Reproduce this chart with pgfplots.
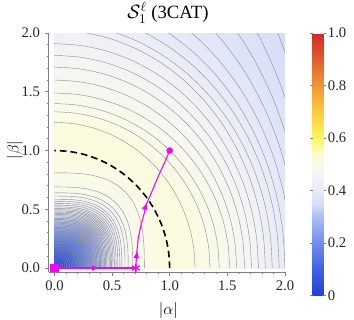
\documentclass[border=0pt]{standalone}
\usepackage{fontspec}
\setmainfont{Liberation Serif}
\usepackage{pgfplots}
\usepackage{pgfplotstable}
\pgfplotsset{compat=1.18}
\usetikzlibrary{decorations.markings, arrows.meta}
\definecolor{mag}{RGB}{250,0,250}

% unit quarter circle
\pgfplotstableread{
x y
1 0
0.9914 0.1305
0.9659 0.2588
0.9239 0.3827
0.8660 0.5
0.7934 0.6088
0.7071 0.7071
0.6088 0.7934
0.5 0.8660
0.3827 0.9239
0.2588 0.9659
0.1305 0.9914
0 1
}\circq

% unit quarter superellipse (p=3)
\pgfplotstableread{
x y
1 0
0.99909 0.1399
0.99350 0.2685
0.97715 0.4061
0.93653 0.5632
0.87547 0.69033
0.79370 0.79370
0.69033 0.87547
0.5632 0.93653
0.4061 0.97715
0.2685 0.99350
0.1399 0.99909
0 1
}\supq

\newcommand{\ctr}[2]{\addplot[cline, smooth] table[x expr=\thisrow{x}*#1, y expr=\thisrow{y}*#2]{\circq};}
\newcommand{\ctrin}[2]{\addplot[cline, smooth, tension=0.4] table[x expr=\thisrow{x}*#1, y expr=\thisrow{y}*#2]{\supq};}

\begin{document}
\begin{tikzpicture}
\useasboundingbox (-36.5pt,-35.25pt) rectangle (229pt,204pt);
\begin{axis}[
  at={(0,0)}, anchor=south west,
  scale only axis, width=177.2pt, height=179.25pt,
  xmin=-0.05, xmax=2, ymin=-0.034, ymax=2,
  axis x line*=bottom, axis y line*=left,
  axis line style={black!50, line width=0.4pt},
  tick align=outside, major tick length=3pt, minor tick length=1.6pt,
  every tick/.style={black!50, line width=0.4pt},
  xtick={0,0.5,1,1.5,2}, xticklabels={0.0,0.5,1.0,1.5,2.0},
  ytick={0,0.5,1,1.5,2}, yticklabels={0.0,0.5,1.0,1.5,2.0},
  minor x tick num=4, minor y tick num=4,
  ticklabel style={font=\fontsize{11}{13}\selectfont, text=black!85},
  xlabel={$|\alpha|$}, ylabel={$|\beta|$},
  xlabel style={at={(axis description cs:0.507,-0.176)}, anchor=base, font=\fontsize{11.5}{13}\selectfont},
  ylabel style={at={(axis description cs:-0.143,0.51)}, anchor=center, font=\fontsize{11.5}{13}\selectfont},
  title={$\mathcal{S}_1^{\ell}$ (3CAT)},
  title style={at={(axis description cs:0.505,1.028)}, anchor=base, font=\fontsize{14}{16}\selectfont},
  colormap={temp}{[1pt] rgb255(0pt)=(35,62,215) rgb255(10pt)=(62,98,228) rgb255(20pt)=(112,142,236)
     rgb255(30pt)=(172,188,243) rgb255(35pt)=(215,222,247) rgb255(40pt)=(230,234,248) rgb255(45pt)=(243,244,245)
     rgb255(50pt)=(250,250,232) rgb255(55pt)=(252,250,190) rgb255(60pt)=(255,245,95) rgb255(70pt)=(250,205,60)
     rgb255(80pt)=(238,150,50) rgb255(90pt)=(225,95,45) rgb255(100pt)=(210,40,40)},
  point meta min=0, point meta max=1,
  colorbar,
  colorbar style={at={(parent axis.north east)}, anchor=north west, xshift=12.3pt,
     scale only axis, width=8.25pt, height=197pt,
     ytick={0,0.2,0.4,0.6,0.8,1}, yticklabels={0,0.2,0.4,0.6,0.8,1.0},
     axis line style={draw=none}, tick align=outside, major tick length=2pt,
     every tick/.style={black!50, line width=0.4pt},
     yticklabel style={font=\fontsize{11}{13}\selectfont, text=black!85, inner sep=1pt}},
  cline/.style={no markers, line width=0.3pt, black!45, forget plot},
]
\addplot[surf, shader=interp, mesh/cols=16, point meta=explicit, forget plot] coordinates {
(0,0)[0.0] (0.05,0)[0.028] (0.1,0)[0.057] (0.2,0)[0.133] (0.3,0)[0.218] (0.4,0)[0.309] (0.5,0)[0.403] (0.6,0)[0.465] (0.7,0)[0.492] (0.8,0)[0.502] (1,0)[0.514] (1.2,0)[0.5105] (1.4,0)[0.4936] (1.6,0)[0.467] (1.8,0)[0.4348] (2,0)[0.400]
(0,0.05)[0.028] (0.05,0.05)[0.033] (0.1,0.05)[0.058] (0.2,0.05)[0.133] (0.3,0.05)[0.218] (0.4,0.05)[0.309] (0.5,0.05)[0.403] (0.6,0.05)[0.465] (0.7,0.05)[0.492] (0.8,0.05)[0.502] (1,0.05)[0.514] (1.2,0.05)[0.5105] (1.4,0.05)[0.4936] (1.6,0.05)[0.467] (1.8,0.05)[0.4348] (2,0.05)[0.3999]
(0,0.1)[0.057] (0.05,0.1)[0.058] (0.1,0.1)[0.071] (0.2,0.1)[0.136] (0.3,0.1)[0.219] (0.4,0.1)[0.309] (0.5,0.1)[0.403] (0.6,0.1)[0.465] (0.7,0.1)[0.492] (0.8,0.1)[0.502] (1,0.1)[0.514] (1.2,0.1)[0.5105] (1.4,0.1)[0.4931] (1.6,0.1)[0.4665] (1.8,0.1)[0.4345] (2,0.1)[0.3997]
(0,0.2)[0.133] (0.05,0.2)[0.133] (0.1,0.2)[0.136] (0.2,0.2)[0.165] (0.3,0.2)[0.231] (0.4,0.2)[0.315] (0.5,0.2)[0.406] (0.6,0.2)[0.466] (0.7,0.2)[0.492] (0.8,0.2)[0.502] (1,0.2)[0.514] (1.2,0.2)[0.510] (1.4,0.2)[0.4918] (1.6,0.2)[0.4653] (1.8,0.2)[0.4332] (2,0.2)[0.3987]
(0,0.3)[0.218] (0.05,0.3)[0.218] (0.1,0.3)[0.219] (0.2,0.3)[0.231] (0.3,0.3)[0.270] (0.4,0.3)[0.335] (0.5,0.3)[0.416] (0.6,0.3)[0.469] (0.7,0.3)[0.493] (0.8,0.3)[0.502] (1,0.3)[0.514] (1.2,0.3)[0.5086] (1.4,0.3)[0.4897] (1.6,0.3)[0.4633] (1.8,0.3)[0.4313] (2,0.3)[0.3971]
(0,0.4)[0.309] (0.05,0.4)[0.309] (0.1,0.4)[0.309] (0.2,0.4)[0.315] (0.3,0.4)[0.335] (0.4,0.4)[0.380] (0.5,0.4)[0.437] (0.6,0.4)[0.476] (0.7,0.4)[0.494] (0.8,0.4)[0.503] (1,0.4)[0.514] (1.2,0.4)[0.506] (1.4,0.4)[0.4866] (1.6,0.4)[0.4606] (1.8,0.4)[0.4288] (2,0.4)[0.395]
(0,0.5)[0.403] (0.05,0.5)[0.403] (0.1,0.5)[0.403] (0.2,0.5)[0.406] (0.3,0.5)[0.416] (0.4,0.5)[0.437] (0.5,0.5)[0.464] (0.6,0.5)[0.485] (0.7,0.5)[0.496] (0.8,0.5)[0.504] (1,0.5)[0.513] (1.2,0.5)[0.503] (1.4,0.5)[0.4831] (1.6,0.5)[0.4566] (1.8,0.5)[0.4254] (2,0.5)[0.3924]
(0,0.6)[0.465] (0.05,0.6)[0.465] (0.1,0.6)[0.465] (0.2,0.6)[0.466] (0.3,0.6)[0.469] (0.4,0.6)[0.476] (0.5,0.6)[0.485] (0.6,0.6)[0.493] (0.7,0.6)[0.500] (0.8,0.6)[0.506] (1,0.6)[0.512] (1.2,0.6)[0.5003] (1.4,0.6)[0.4787] (1.6,0.6)[0.4519] (1.8,0.6)[0.4215] (2,0.6)[0.3894]
(0,0.7)[0.492] (0.05,0.7)[0.492] (0.1,0.7)[0.492] (0.2,0.7)[0.492] (0.3,0.7)[0.493] (0.4,0.7)[0.494] (0.5,0.7)[0.496] (0.6,0.7)[0.500] (0.7,0.7)[0.504] (0.8,0.7)[0.510] (1,0.7)[0.510] (1.2,0.7)[0.494] (1.4,0.7)[0.4724] (1.6,0.7)[0.4466] (1.8,0.7)[0.417] (2,0.7)[0.3862]
(0,0.8)[0.502] (0.05,0.8)[0.502] (0.1,0.8)[0.502] (0.2,0.8)[0.502] (0.3,0.8)[0.502] (0.4,0.8)[0.503] (0.5,0.8)[0.504] (0.6,0.8)[0.506] (0.7,0.8)[0.510] (0.8,0.8)[0.5125] (1,0.8)[0.505] (1.2,0.8)[0.4875] (1.4,0.8)[0.4663] (1.6,0.8)[0.4401] (1.8,0.8)[0.4121] (2,0.8)[0.3829]
(0,1)[0.514] (0.05,1)[0.514] (0.1,1)[0.514] (0.2,1)[0.514] (0.3,1)[0.514] (0.4,1)[0.514] (0.5,1)[0.513] (0.6,1)[0.512] (0.7,1)[0.5105] (0.8,1)[0.505] (1,1)[0.490] (1.2,1)[0.473] (1.4,1)[0.4529] (1.6,1)[0.4285] (1.8,1)[0.400] (2,1)[0.3757]
(0,1.2)[0.511] (0.05,1.2)[0.511] (0.1,1.2)[0.511] (0.2,1.2)[0.5105] (0.3,1.2)[0.510] (0.4,1.2)[0.507] (0.5,1.2)[0.5032] (0.6,1.2)[0.4989] (0.7,1.2)[0.4924] (0.8,1.2)[0.4861] (1,1.2)[0.473] (1.2,1.2)[0.4577] (1.4,1.2)[0.4376] (1.6,1.2)[0.4135] (1.8,1.2)[0.3895] (2,1.2)[0.3687]
(0,1.4)[0.490] (0.05,1.4)[0.4899] (0.1,1.4)[0.4896] (0.2,1.4)[0.4884] (0.3,1.4)[0.4864] (0.4,1.4)[0.4839] (0.5,1.4)[0.4808] (0.6,1.4)[0.477] (0.7,1.4)[0.4729] (0.8,1.4)[0.468] (1,1.4)[0.456] (1.2,1.4)[0.4404] (1.4,1.4)[0.420] (1.6,1.4)[0.3988] (1.8,1.4)[0.3803] (2,1.4)[0.3617]
(0,1.6)[0.470] (0.05,1.6)[0.470] (0.1,1.6)[0.4697] (0.2,1.6)[0.4687] (0.3,1.6)[0.4672] (0.4,1.6)[0.4651] (0.5,1.6)[0.4625] (0.6,1.6)[0.4593] (0.7,1.6)[0.4548] (0.8,1.6)[0.450] (1,1.6)[0.438] (1.2,1.6)[0.4213] (1.4,1.6)[0.4034] (1.6,1.6)[0.387] (1.8,1.6)[0.3719] (2,1.6)[0.3558]
(0,1.8)[0.451] (0.05,1.8)[0.451] (0.1,1.8)[0.4507] (0.2,1.8)[0.4498] (0.3,1.8)[0.4482] (0.4,1.8)[0.4459] (0.5,1.8)[0.443] (0.6,1.8)[0.4397] (0.7,1.8)[0.4359] (0.8,1.8)[0.4316] (1,1.8)[0.417] (1.2,1.8)[0.4033] (1.4,1.8)[0.390] (1.6,1.8)[0.3775] (1.8,1.8)[0.3642] (2,1.8)[0.3509]
(0,2)[0.432] (0.05,2)[0.4319] (0.1,2)[0.4318] (0.2,2)[0.431] (0.3,2)[0.4295] (0.4,2)[0.4259] (0.5,2)[0.4216] (0.6,2)[0.4177] (0.7,2)[0.4138] (0.8,2)[0.4095] (1,2)[0.399] (1.2,2)[0.3897] (1.4,2)[0.380] (1.6,2)[0.3699] (1.8,2)[0.3577] (2,2)[0.346]
};
% inner contour lines
\ctrin{0.036}{0.036}\ctrin{0.054}{0.054}\ctrin{0.072}{0.072}\ctrin{0.09}{0.09}\ctrin{0.104}{0.104}
\ctrin{0.118}{0.118}\ctrin{0.132}{0.132}\ctrin{0.146}{0.146}\ctrin{0.16}{0.16}\ctrin{0.172}{0.172}
\ctrin{0.184}{0.184}\ctrin{0.196}{0.196}\ctrin{0.208}{0.208}\ctrin{0.22}{0.22}\ctrin{0.232}{0.232}
\ctrin{0.244}{0.244}\ctrin{0.256}{0.256}\ctrin{0.268}{0.268}\ctrin{0.28}{0.28}\ctrin{0.291}{0.291}
\ctrin{0.302}{0.302}\ctrin{0.313}{0.313}\ctrin{0.324}{0.324}\ctrin{0.335}{0.335}\ctrin{0.346}{0.346}
\ctrin{0.357}{0.357}\ctrin{0.368}{0.368}\ctrin{0.379}{0.379}\ctrin{0.39}{0.39}\ctrin{0.401}{0.401}
\ctrin{0.412}{0.412}\ctrin{0.423}{0.423}\ctrin{0.434}{0.434}\ctrin{0.445}{0.445}\ctrin{0.455}{0.455}
\ctrin{0.465}{0.465}\ctrin{0.476}{0.476}\ctrin{0.486}{0.486}\ctrin{0.496}{0.496}\ctrin{0.508}{0.508}
\ctrin{0.52}{0.52}\ctrin{0.535}{0.535}\ctrin{0.55}{0.55}\ctrin{0.5675}{0.5675}\ctrin{0.585}{0.585}
\ctrin{0.6125}{0.6125}\ctrin{0.64}{0.64}\ctrin{0.68}{0.69}\ctrin{0.78}{0.81}
% outer contour lines
\ctr{1.22}{1.24}\ctr{1.35}{1.33}\ctr{1.43}{1.40}\ctr{1.52}{1.49}\ctr{1.58}{1.60}
\ctr{1.65}{1.71}\ctr{1.71}{1.81}\ctr{1.77}{1.91}\ctr{1.83}{2.024}\ctr{1.89}{2.087}
\ctr{1.95}{2.188}\ctr{2.00}{2.302}\ctr{2.06}{2.451}\ctr{2.12}{2.663}\ctr{2.18}{2.924}
\ctr{2.24}{3.232}\ctr{2.30}{3.72}
% dashed unit circle
\addplot[black, line width=1.2pt, dash pattern=on 5pt off 3pt, smooth, forget plot] table {\circq};
% magenta trajectory
\addplot[mag, line width=1.1pt, forget plot, postaction={decorate},
  decoration={markings, mark=at position 0.55 with {\arrow{Latex[length=5.5pt,width=4.5pt]}}}]
  coordinates {(0,0) (0.707,0)};
\addplot[mag, line width=0.8pt, smooth, forget plot, postaction={decorate},
  decoration={markings, mark=at position 0.14 with {\arrow{Latex[length=5.5pt,width=4.5pt]}},
                        mark=at position 0.54 with {\arrow{Latex[length=5.5pt,width=4.5pt]}}}]
  coordinates {(0.707,0) (0.710,0.07) (0.716,0.14) (0.727,0.25) (0.748,0.35) (0.775,0.45) (0.80,0.545) (0.85,0.66) (0.896,0.77) (0.95,0.885) (1.0,1.0)};
\addplot[mag, only marks, mark=square*, mark size=2.8pt, forget plot] coordinates {(0,0)};
\addplot[mag, only marks, mark=asterisk, mark size=3.3pt, mark options={line width=1pt}, forget plot] coordinates {(0.707,0)};
\addplot[mag, only marks, mark=*, mark size=2.2pt, forget plot] coordinates {(1,1)};
\end{axis}
\end{tikzpicture}
\end{document}
